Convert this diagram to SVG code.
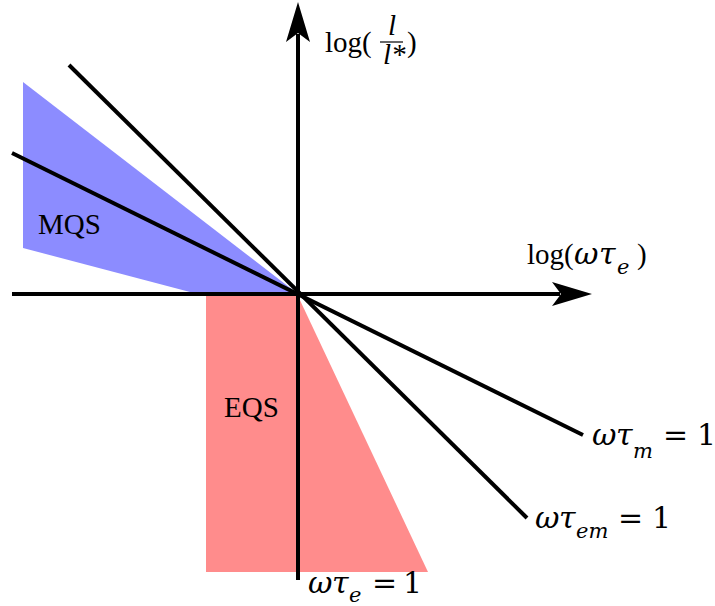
<svg xmlns="http://www.w3.org/2000/svg" width="715" height="606" viewBox="0 0 715 606">
<style>
.ln{stroke:#000;stroke-width:4;fill:none}
.t{font-family:"Liberation Serif","DejaVu Serif",serif;font-size:29px;fill:#000}
.m{font-family:"DejaVu Serif","Liberation Serif",serif;font-size:30px;fill:#000}
.i{font-style:italic}
.s{font-size:21px;font-style:italic}
</style>
<g id="regions">
<polygon id="mqs-region" points="23,82 298,294 190,292 23,248" fill="#8c8cff"/>
<polygon id="eqs-region" points="206,296 298,296 428,572 206,572" fill="#ff8c8c"/>
</g>
<g id="connectors">
<line class="ln" x1="12" y1="294" x2="560" y2="294"/>
<path d="M592,294 L552,282 L561,294 L552,306 Z" fill="#000"/>
<line class="ln" x1="298" y1="580" x2="298" y2="34"/>
<path d="M298,2 L286,42 L298,33 L310,42 Z" fill="#000"/>
<line class="ln" x1="69" y1="65" x2="527" y2="518"/>
<line class="ln" x1="12" y1="153" x2="583" y2="435"/>
</g>
<g id="labels">
<g id="y-label">
<text class="t" x="325" y="52">log(</text>
<text class="t i" font-size="17" x="388" y="35">l</text>
<line x1="380" y1="42" x2="403" y2="42" stroke="#000" stroke-width="1.2"/>
<text class="t i" font-size="17" x="383" y="64">l*</text>
<text class="t" x="407" y="52">)</text>
</g>
<g id="x-label">
<text class="t" x="527" y="264">log(</text>
<text class="m i" y="264"><tspan x="574">ω</tspan><tspan x="599">τ</tspan><tspan class="s" x="617" dy="10">e</tspan></text>
<text class="t" x="637" y="264">)</text>
</g>
<text id="mqs" class="t" x="38" y="234">MQS</text>
<text id="eqs" class="t" x="224" y="417">EQS</text>
<g id="tm"><text class="m i" y="445"><tspan x="592">ω</tspan><tspan x="616">τ</tspan><tspan class="s" x="633" dy="13">m</tspan></text><text class="m" y="445"><tspan x="663">=</tspan><tspan x="697">1</tspan></text></g>
<g id="tem"><text class="m i" y="528"><tspan x="535">ω</tspan><tspan x="559">τ</tspan><tspan class="s" x="576" dy="10">em</tspan></text><text class="m" y="528"><tspan x="618">=</tspan><tspan x="652">1</tspan></text></g>
<g id="te"><text class="m i" y="593"><tspan x="308">ω</tspan><tspan x="332">τ</tspan><tspan class="s" x="349" dy="9">e</tspan></text><text class="m" y="593"><tspan x="372">=</tspan><tspan x="403">1</tspan></text></g>
</g>
</svg>
